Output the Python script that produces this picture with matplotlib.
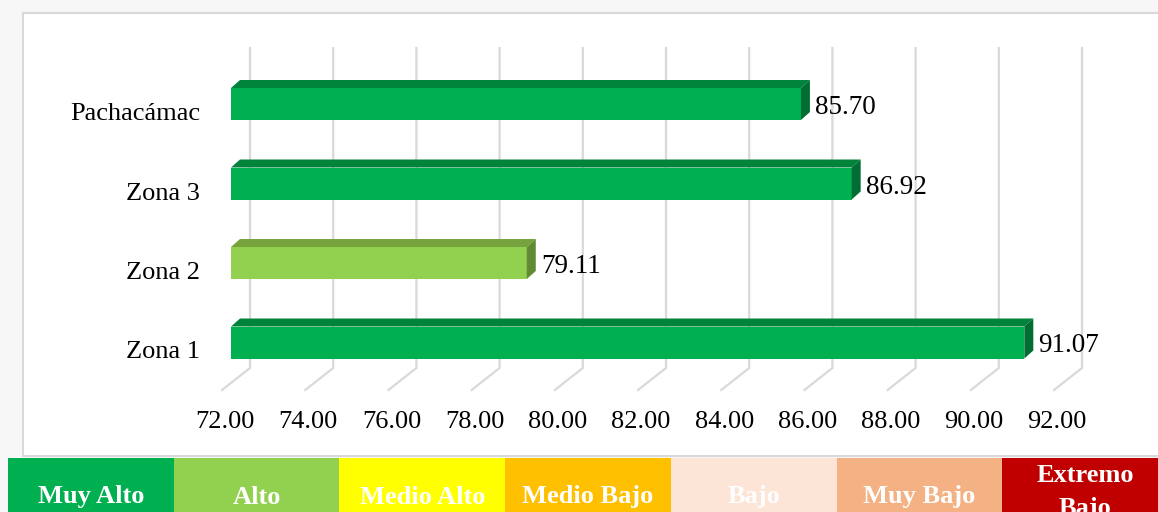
import matplotlib.pyplot as plt
from matplotlib.patches import Polygon, Rectangle

plt.rcParams['font.family'] = ['Liberation Serif', 'DejaVu Serif']

# data
categories = ['Zona 1', 'Zona 2', 'Zona 3', 'Pachacámac']
values = [91.07, 79.11, 86.92, 85.70]
bar_colors = ['#00B050', '#92D050', '#00B050', '#00B050']
ticks = [72, 74, 76, 78, 80, 82, 84, 86, 88, 90, 92]

legend_labels = ['Muy Alto', 'Alto', 'Medio Alto', 'Medio Bajo', 'Bajo', 'Muy Bajo', 'Extremo\nBajo']
legend_colors = ['#00B050', '#92D050', '#FFFF00', '#FFC000', '#FCE4D6', '#F4B183', '#C00000']

# darker shades for the 3d faces
top_shade = {'#00B050': '#00843C', '#92D050': '#76A33E'}
side_shade = {'#00B050': '#006E32', '#92D050': '#628A32'}

W, H = 1158, 512
fig = plt.figure(figsize=(W / 100, H / 100), dpi=100)
fig.patch.set_facecolor('#f7f7f7')

# white chart frame
frame = fig.add_axes([23 / W, (H - 456) / H, (W - 23 + 10) / W, (456 - 13) / H])
frame.set_facecolor('white')
frame.set_xticks([])
frame.set_yticks([])
for s in frame.spines.values():
    s.set_color('#d9d9d9')
    s.set_linewidth(1.5)

# main axes in value / category units over whole figure
sx = 41.6   # pixels per value unit
sy = 79.5   # pixels per category step
x0pix, y0pix = 231, 342.5
ax = fig.add_axes([0, 0, 1, 1])
ax.set_xlim(72 - x0pix / sx, 72 + (W - x0pix) / sx)
ax.set_ylim((y0pix - H) / sy, y0pix / sy)
ax.axis('off')
ax.patch.set_alpha(0)

def dx(p):
    return p / sx

def dy(p):
    return p / sy

base = ticks[0]
# gridlines with 3d floor
grid_top = (y0pix - 48) / sy
grid_bot = (y0pix - 368) / sy
floor_front = (y0pix - 390) / sy
for t in ticks:
    xb = t + dx(19)
    xf = t - dx(9)
    ax.plot([xb, xb, xf], [grid_top, grid_bot, floor_front], color='#d9d9d9', lw=1.6,
            solid_joinstyle='miter', zorder=1)
    ax.text(t - dx(6), (y0pix - 428) / sy, f'{t:.2f}', ha='center', va='baseline', fontsize=19, color='black')

bh = dy(32)
ddx, ddy = dx(9), dy(8)
for i, (cat, v, c) in enumerate(zip(categories, values, bar_colors)):
    yb = i - bh / 2
    yt = i + bh / 2
    ax.add_patch(Rectangle((base, yb), v - base, bh, facecolor=c, edgecolor='none', zorder=3))
    ax.add_patch(Polygon([(base, yt), (base + ddx, yt + ddy), (v + ddx, yt + ddy), (v, yt)],
                         closed=True, facecolor=top_shade[c], edgecolor='none', zorder=3))
    ax.add_patch(Polygon([(v, yb), (v, yt), (v + ddx, yt + ddy), (v + ddx, yb + ddy)],
                         closed=True, facecolor=side_shade[c], edgecolor='none', zorder=3))
    ax.text(v + dx(14), i - dy(10), f'{v:.2f}', ha='left', va='baseline', fontsize=19.5, zorder=4)
    ax.text(base - dx(31), i - dy(16), cat, ha='right', va='baseline', fontsize=19, zorder=4)

# colour legend strip
lg = fig.add_axes([8 / W, 0, (W - 8) / W, 54 / H])
cw = 165.7
lg.set_xlim(0, W - 8)
lg.set_ylim(0, 54)
lg.axis('off')
for k, (lab, col) in enumerate(zip(legend_labels, legend_colors)):
    lg.add_patch(Rectangle((k * cw, 0), cw, 54, facecolor=col, edgecolor='none'))
    lines = lab.split('\n')
    y_first = 8.5 if len(lines) == 1 else 30.5
    for j, line in enumerate(lines):
        lg.text(k * cw + cw / 2, y_first - j * 33, line, ha='center', va='baseline', fontsize=19,
                fontweight='bold', color='white', clip_on=True)

fig.savefig('out.png', dpi=100, facecolor=fig.get_facecolor())
